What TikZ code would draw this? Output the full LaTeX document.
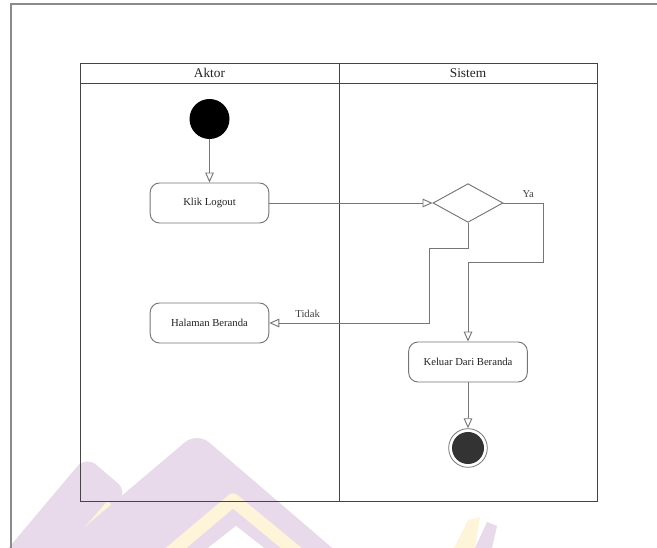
\documentclass[tikz,border=0pt]{standalone}
\usepackage{fontspec}
\setmainfont{Liberation Serif}
\usetikzlibrary{arrows.meta,shapes.geometric}
\definecolor{edgegray}{HTML}{767676}
\definecolor{lanegray}{HTML}{444444}
\definecolor{framegray}{HTML}{8A8A8A}
\definecolor{enddark}{HTML}{333333}
\definecolor{textdark}{HTML}{222222}
\definecolor{markpurple}{HTML}{E9DAEB}
\definecolor{markyellow}{HTML}{FDF4DA}
\tikzset{
  action/.style={
    draw=edgegray,
    rounded corners=7pt,
    line width=0.7pt,
    minimum width=89pt,
    minimum height=30pt,
    align=center,
    font=\fontsize{8}{9}\selectfont,
    text=textdark,
    fill=white
  },
  decision/.style={
    diamond,
    draw=edgegray,
    line width=0.7pt,
    minimum width=52.5pt,
    minimum height=29pt,
    inner sep=0pt,
    fill=white
  },
  startstate/.style={circle, fill=black, minimum size=30pt, inner sep=0pt},
  endstate/.style={
    circle, draw=edgegray, line width=0.6pt, fill=white,
    minimum size=29pt, inner sep=0pt,
    path picture={\fill[enddark] (path picture bounding box.center) circle (12pt);}
  },
  flow/.style={-{Triangle[open, length=7.5pt, width=6.5pt]}, line width=0.7pt, draw=edgegray},
  lane/.style={draw=lanegray, line width=0.7pt},
  lanetitle/.style={font=\fontsize{10}{11}\selectfont, text=textdark},
  guard/.style={font=\fontsize{8}{9}\selectfont, text=lanegray}
}

\begin{document}
\begin{tikzpicture}[x=0.75pt, y=-0.75pt]
\useasboundingbox (0,0) rectangle (657,548);
\fill[white] (0,0) rectangle (657,548);

% faint logo behind the lanes
\begin{scope}
  \clip (0,0) rectangle (657,548);
  \fill[markpurple, rounded corners=10pt] (86,456) -- (128,492) -- (60,570) -- (-10,570) -- cycle;
  \draw[markyellow, line width=9pt] (55,570) -- (112,505);
  \fill[markpurple, rounded corners=12pt] (197,432) -- (352,565) -- (40,565) -- cycle;
  \draw[markyellow, line width=10pt, line join=round] (150,570) -- (233,500) -- (318,570);
  \fill[white] (236,526) -- (292,570) -- (180,570) -- cycle;
  \fill[markyellow] (454,548) -- (468,520) -- (480,517) -- (475,548) -- cycle;
  \fill[markpurple] (475,548) -- (487,522) -- (497,526) -- (492,548) -- cycle;
\end{scope}

% page frame
\draw[framegray, line width=0.8pt] (11,548) -- (11,4) -- (657,4);

% swimlanes
\draw[lane] (80,63) rectangle (597,501);
\draw[lane] (80,83) -- (597,83);
\draw[lane] (339,63) -- (339,501);
\node[lanetitle] (aktor) at (209.5,73) {Aktor};
\node[lanetitle] (sistem) at (468,73) {Sistem};

% states and actions
\node[startstate] (mulai) at (209.5,119) {};
\node[action] (klik) at (209.5,203) {Klik Logout};
\node[decision] (cek) at (468,203) {};
\node[action] (halaman) at (209.5,323) {Halaman Beranda};
\node[action] (keluar) at (468,362) {Keluar Dari Beranda};
\node[endstate] (selesai) at (468,448) {};

% control flow
\draw[flow] (mulai) -- (klik);
\draw[flow] (klik) -- (cek);
\draw[flow] (cek.east) -- node[guard, pos=0.62, above] {Ya} ++(40,0) -- ++(0,59) -| (keluar.north);
\draw[flow] (cek.south) -- ++(0,26) -- ++(-39,0) |- node[guard, pos=0.88, above] {Tidak} (halaman.east);
\draw[flow] (keluar) -- (selesai);

\end{tikzpicture}
\end{document}
